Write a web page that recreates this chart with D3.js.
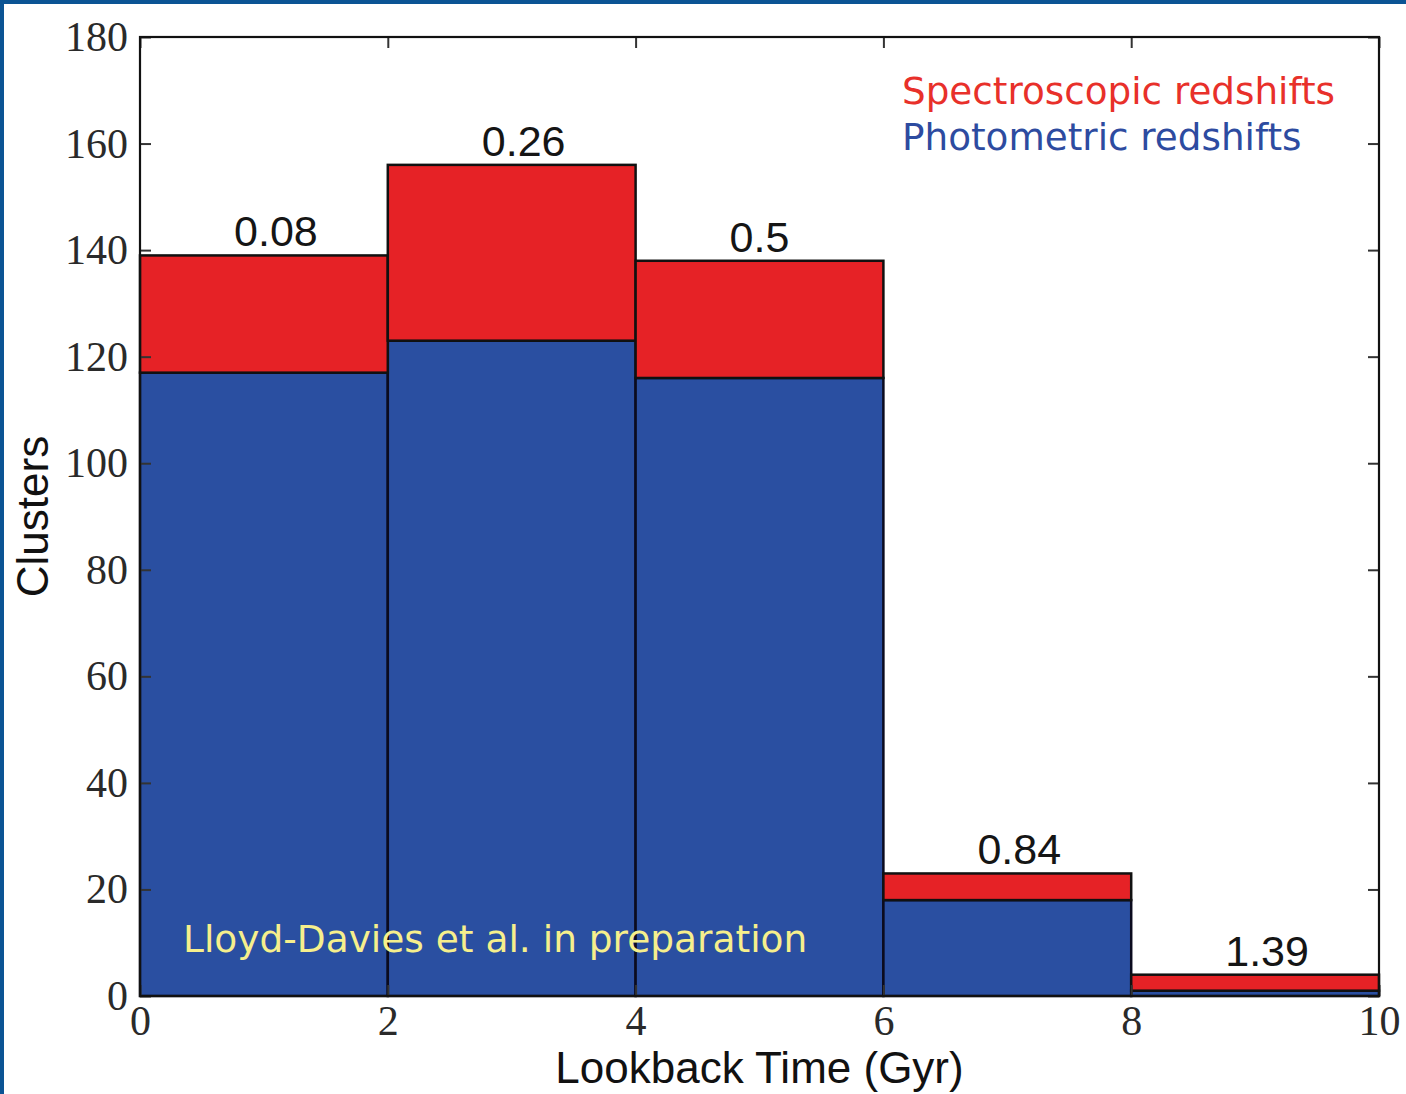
<!DOCTYPE html>
<html>
<head>
<meta charset="utf-8">
<script src="https://cdn.jsdelivr.net/npm/d3@7/dist/d3.min.js"></script>
<style>
  html, body { margin: 0; padding: 0; background: #fff; }
  svg { display: block; }
</style>
</head>
<body>
<svg id="chart" width="1406" height="1094"></svg>
<script>
// Histogram bins of lookback time (Gyr)
const binStarts = [0, 2, 4, 6, 8];
const binWidth = 2;
// Cluster counts per bin
const photometric = [117, 123, 116, 18, 1];
const spectroscopic = [22, 33, 22, 5, 3];
// Median redshift for each bin
const redshiftLabels = ["0.08", "0.26", "0.5", "0.84", "1.39"];
const xTicks = [0, 2, 4, 6, 8, 10];
const yTicks = [0, 20, 40, 60, 80, 100, 120, 140, 160, 180];

const W = 1406, H = 1094;
const plot = { left: 140, right: 1379, top: 37, bottom: 996 };

const svg = d3.select("#chart");

svg.append("rect").attr("width", W).attr("height", H).attr("fill", "#fff");

const x = d3.scaleLinear().domain([0, 10]).range([plot.left, plot.right]);
const y = d3.scaleLinear().domain([0, 180]).range([plot.bottom, plot.top]);

const colors = { phot: "#2a4fa1", spec: "#e62226" };

const bins = binStarts.map((s, i) => ({
  x0: s, x1: s + binWidth,
  phot: photometric[i], spec: spectroscopic[i],
  total: photometric[i] + spectroscopic[i],
  label: redshiftLabels[i]
}));

// Stacked bars: photometric at the bottom, spectroscopic on top
const g = svg.append("g");
g.selectAll("rect.phot").data(bins).join("rect")
  .attr("class", "phot")
  .attr("x", d => x(d.x0)).attr("width", d => x(d.x1) - x(d.x0))
  .attr("y", d => y(d.phot)).attr("height", d => y(0) - y(d.phot))
  .attr("fill", colors.phot).attr("stroke", "#0b0b1e").attr("stroke-width", 2.5);
g.selectAll("rect.spec").data(bins).join("rect")
  .attr("class", "spec")
  .attr("x", d => x(d.x0)).attr("width", d => x(d.x1) - x(d.x0))
  .attr("y", d => y(d.total)).attr("height", d => y(d.phot) - y(d.total))
  .attr("fill", colors.spec).attr("stroke", "#111").attr("stroke-width", 2.5);

// Redshift labels above each bar
const labelDx = [12, 12, 0, 12, 12];
g.selectAll("text.z").data(bins).join("text")
  .attr("class", "z")
  .attr("x", (d, i) => (x(d.x0) + x(d.x1)) / 2 + labelDx[i])
  .attr("y", d => y(d.total) - 9)
  .attr("text-anchor", "middle")
  .attr("font-family", "Liberation Sans, Arial, sans-serif")
  .attr("font-size", 43)
  .attr("fill", "#151515")
  .text(d => d.label);

// Axes with inward ticks on all four sides
const tickLen = 11;
const serif = "Liberation Serif, Times New Roman, serif";

const axB = d3.axisBottom(x).tickValues(xTicks).tickSizeInner(-tickLen).tickSizeOuter(0).tickPadding(9);
const axT = d3.axisTop(x).tickValues(xTicks).tickSizeInner(-tickLen).tickSizeOuter(0).tickFormat("");
const axL = d3.axisLeft(y).tickValues(yTicks).tickSizeInner(-tickLen).tickSizeOuter(0).tickPadding(12);
const axR = d3.axisRight(y).tickValues(yTicks).tickSizeInner(-tickLen).tickSizeOuter(0).tickFormat("");

function styleAxis(sel) {
  sel.select(".domain").remove();
  sel.selectAll(".tick line").attr("stroke", "#333").attr("stroke-width", 2);
  sel.selectAll(".tick text").attr("font-family", serif).attr("font-size", 42).attr("fill", "#2a2a2a");
}
svg.append("g").attr("transform", `translate(0,${plot.bottom})`).call(axB).call(styleAxis)
  .selectAll(".tick text").attr("dy", "0.71em");
svg.append("g").attr("transform", `translate(0,${plot.top})`).call(axT).call(styleAxis);
svg.append("g").attr("transform", `translate(${plot.left},0)`).call(axL).call(styleAxis)
  .selectAll(".tick text").attr("dx", 0);
svg.append("g").attr("transform", `translate(${plot.right},0)`).call(axR).call(styleAxis);

// Plot frame
svg.append("rect")
  .attr("x", plot.left).attr("y", plot.top)
  .attr("width", plot.right - plot.left).attr("height", plot.bottom - plot.top)
  .attr("fill", "none").attr("stroke", "#111").attr("stroke-width", 2.2);

// Axis titles
svg.append("text")
  .attr("x", (plot.left + plot.right) / 2).attr("y", 1083)
  .attr("text-anchor", "middle")
  .attr("font-family", "Liberation Sans, Arial, sans-serif")
  .attr("font-size", 44).attr("fill", "#111")
  .text("Lookback Time (Gyr)");
svg.append("text")
  .attr("transform", `translate(48,${(plot.top + plot.bottom) / 2}) rotate(-90)`)
  .attr("text-anchor", "middle")
  .attr("font-family", "Liberation Sans, Arial, sans-serif")
  .attr("font-size", 44).attr("fill", "#111")
  .text("Clusters");

// Legend
const sans = "DejaVu Sans, Verdana, sans-serif";
svg.append("text").attr("x", 902).attr("y", 104)
  .attr("font-family", sans).attr("font-size", 37.3).attr("fill", "#e8302a")
  .text("Spectroscopic redshifts");
svg.append("text").attr("x", 902).attr("y", 150)
  .attr("font-family", sans).attr("font-size", 37.3).attr("fill", "#2d4ba0")
  .text("Photometric redshifts");

// Credit line
svg.append("text").attr("x", 183).attr("y", 952)
  .attr("font-family", sans).attr("font-size", 37.5).attr("fill", "#f6ef8c")
  .text("Lloyd-Davies et al. in preparation");

// Slide frame
svg.append("rect").attr("x", 0).attr("y", 0).attr("width", W).attr("height", 4).attr("fill", "#0b5494");
svg.append("rect").attr("x", 0).attr("y", 0).attr("width", 4).attr("height", H).attr("fill", "#0b5494");
</script>
</body>
</html>
